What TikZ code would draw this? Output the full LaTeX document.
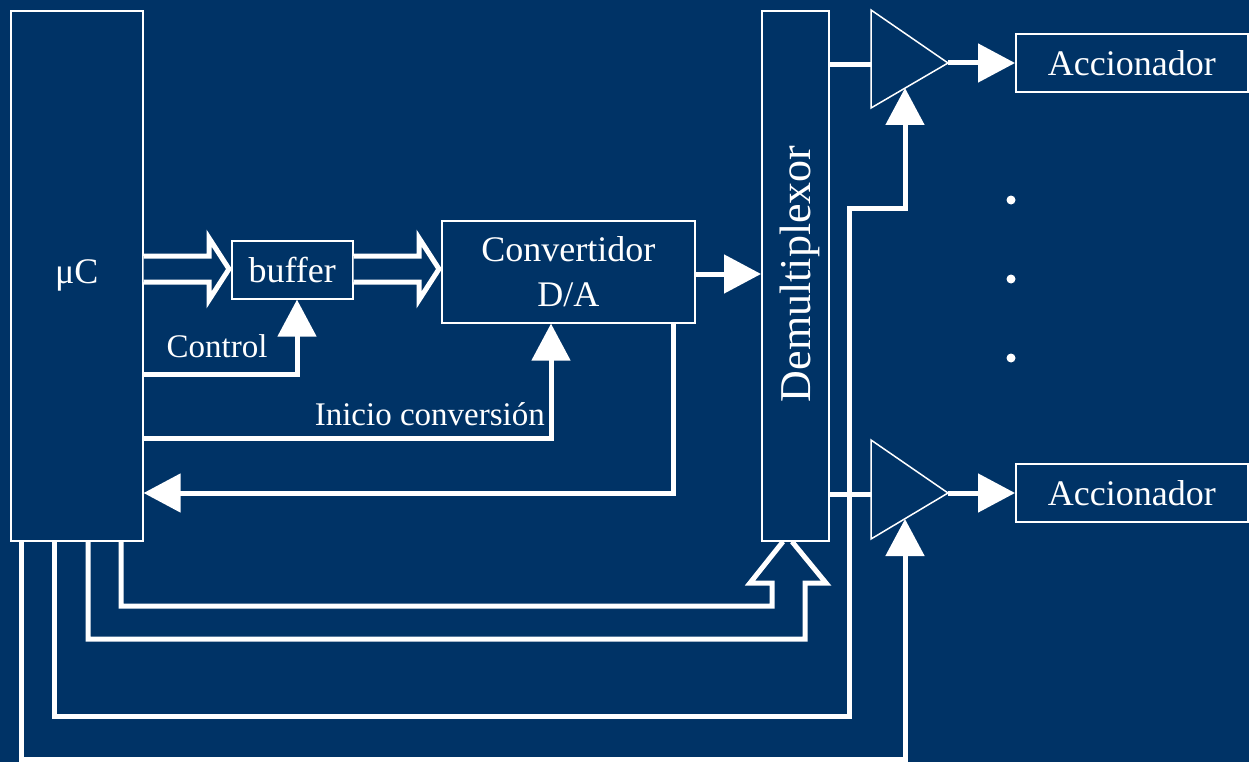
\documentclass[tikz,border=0pt]{standalone}
\usepackage{fontspec}
\setmainfont{Liberation Serif}
\usetikzlibrary{arrows.meta,calc}
\definecolor{navy}{RGB}{0,51,102}
\begin{document}
\begin{tikzpicture}[x=1pt,y=-1pt,
  box/.style={draw=white,line width=1.6pt,text=white,inner sep=0pt,anchor=north west,
              align=center,font=\fontsize{36}{45}\selectfont},
  wire/.style={draw=white,line width=5pt,line join=miter},
  sig/.style={wire,-{Triangle[length=37pt,width=38pt]}},
  bus/.style={draw=white,line width=5pt,fill=navy,line join=miter},
  amp/.style={draw=white,line width=1.5pt},
  lbl/.style={text=white,inner sep=0pt,font=\fontsize{33}{40}\selectfont},
]
\fill[navy] (0,0) rectangle (1249,762);
\useasboundingbox (0,0) rectangle (1249,762);

% blocks
\node[box,minimum width=132pt,minimum height=530pt] (uc) at (10,10) {μC};
\node[box,minimum width=121pt,minimum height=58pt] (buf) at (231,240) {buffer};
\node[box,minimum width=253pt,minimum height=102pt] (dac) at (441,220) {Convertidor\\D/A};
\node[box,minimum width=67pt,minimum height=530pt] (dmx) at (761,10) {};
\node[text=white,inner sep=0pt,rotate=90,anchor=base,font=\fontsize{44}{52}\selectfont]
  (dmxlabel) at ($(dmx.center)+(15,-2)$) {Demultiplexor};
\node[box,minimum width=232pt,minimum height=58pt] (act1) at (1015,33) {Accionador};
\node[box,minimum width=232pt,minimum height=58pt] (act2) at (1015,463) {Accionador};

% amplifiers
\coordinate (amp1in) at (871,65);
\coordinate (amp1out) at (948,63);
\coordinate (amp1ctl) at (905,88);
\coordinate (amp2in) at (871,494);
\coordinate (amp2out) at (948,493);
\coordinate (amp2ctl) at (905,519);
\draw[amp] (871,10) -- (amp1out) -- (871,108) -- cycle;
\draw[amp] (871,440) -- (amp2out) -- (871,539) -- cycle;

% data path (hollow bus arrows)
\draw[bus] (uc.east |- 0,256) -- (209,256) -- (209,238) -- (229,269) -- (209,300) -- (209,282) -- (uc.east |- 0,282);
\draw[bus] (buf.east |- 0,256) -- (419,256) -- (419,238) -- (439,269) -- (419,300) -- (419,282) -- (buf.east |- 0,282);

% signals
\draw[sig] (dac.east |- 0,274) -- (dmx.west |- 0,274);
\draw[sig] (uc.east |- 0,374) -| (297,0 |- buf.south);
\draw[sig] (uc.east |- 0,438) -| (551,0 |- dac.south);
\draw[sig] (673,0 |- dac.south) |- (uc.east |- 0,493);

\node[lbl,anchor=base] (ctl) at (217,357) {Control};
\node[lbl,anchor=base east] (ini) at (545,425) {Inicio conversión};

% demultiplexer outputs
\draw[wire] (dmx.east |- amp1in) -- (amp1in);
\draw[sig] (amp1out) -- (amp1out -| act1.west);
\draw[wire] (dmx.east |- amp2in) -- (amp2in);
\draw[sig] (amp2out) -- (amp2out -| act2.west);

% address lines into the demultiplexer
\draw[wire] (121,0 |- uc.south) |- (772,606) -- (772,583) -- (750,583) -- (783,0 |- dmx.south);
\draw[wire] (88,0 |- uc.south) |- (805,639) -- (805,583) -- (826,583) -- (792,0 |- dmx.south);

% amplifier enables
\draw[sig] (54,0 |- uc.south) |- (849,716) -- (849,208) -| (amp1ctl);
\draw[sig] (21,0 |- uc.south) |- (amp2ctl |- 0,759) -- (amp2ctl);

% further outputs
\fill[white] (1011,200) circle (4.5pt);
\fill[white] (1011,279) circle (4.5pt);
\fill[white] (1011,358) circle (4.5pt);
\end{tikzpicture}
\end{document}
